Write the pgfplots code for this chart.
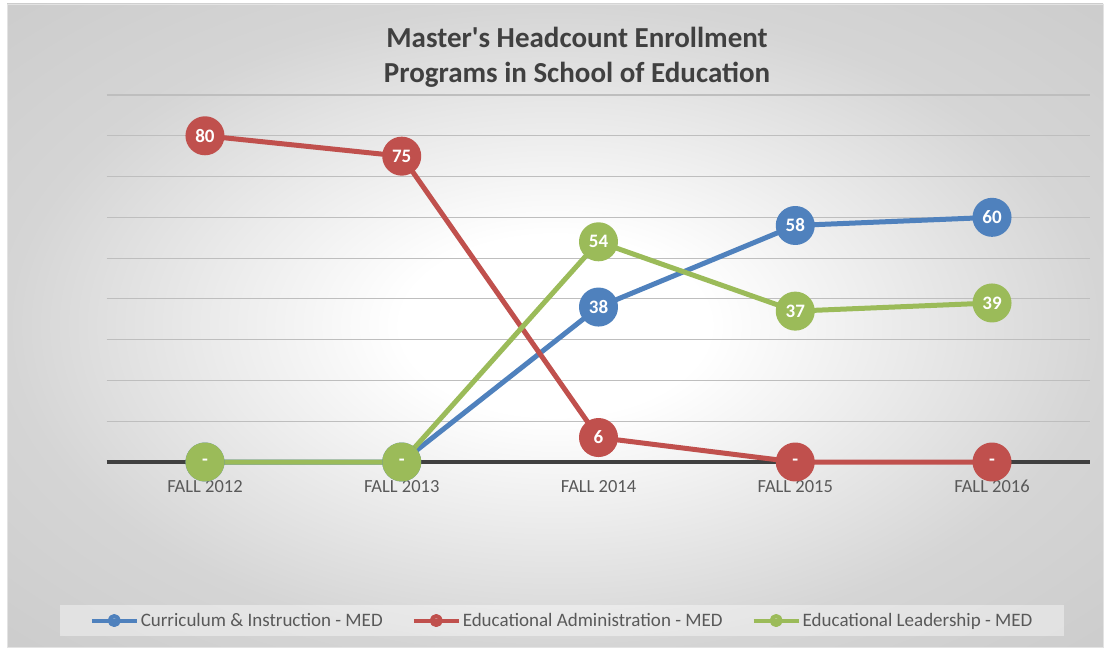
\documentclass[border=0pt]{standalone}
\usepackage{pgfplots}
\pgfplotsset{compat=1.18}
\usepackage{fontspec}
\setmainfont{Carlito}[Ligatures=TeXOff]
\definecolor{cblue}{HTML}{4F81BD}
\definecolor{cred}{HTML}{C0504D}
\definecolor{cgreen}{HTML}{9BBB59}
\definecolor{txt}{HTML}{595959}
\definecolor{ttl}{HTML}{404040}
\definecolor{gridc}{HTML}{BEBEBE}
\pgfdeclareradialshading{bgshade}{\pgfpoint{0bp}{0bp}}{color(0bp)=(white); color(7bp)=(white); color(25bp)=(gray!33); color(36bp)=(gray!40); color(50bp)=(gray!40)}
\begin{document}
\begin{tikzpicture}[x=1pt,y=1pt]
\fill[white] (0,0) rectangle (1109,651);
\shade[shading=bgshade] (7,4) rectangle (1103,647);
\draw[gray!22, line width=0.8pt] (7,4) rectangle (1103,647);
\node[anchor=base, font=\bfseries\fontsize{29}{29}\selectfont, text=ttl, inner sep=0pt] at (577,603) {Master's Headcount Enrollment};
\node[anchor=base, font=\bfseries\fontsize{29}{29}\selectfont, text=ttl, inner sep=0pt] at (577,568) {Programs in School of Education};
\begin{axis}[
  at={(106.6pt,189pt)}, anchor=south west,
  scale only axis, width=983.8pt, height=367pt,
  xmin=-0.5, xmax=4.5, ymin=0, ymax=90,
  clip=false,
  axis line style={draw=none},
  major tick length=0pt,
  ytick={10,20,...,90}, yticklabels={},
  ymajorgrids,
  major grid style={color=gridc, line width=1.2pt},
  xtick={0,1,2,3,4},
  xticklabels={FALL 2012,FALL 2013,FALL 2014,FALL 2015,FALL 2016},
  xticklabel style={anchor=base, yshift=-30pt, font=\fontsize{18.5}{18.5}\selectfont, text=txt},
  nodes near coords align={center},
  nodes near coords style={text=white, font=\bfseries\fontsize{19}{19}\selectfont, inner sep=0pt},
  legend columns=3,
  legend style={at={(0.463,-0.432)}, anchor=center, draw=none, fill=white, fill opacity=0.4, text opacity=1,
    font=\fontsize{19}{19}\selectfont, text=txt, inner xsep=30pt, inner ysep=6pt,
    /tikz/every even column/.append style={column sep=27pt}},
  legend image code/.code={\draw[#1, mark size=4.5pt, line width=4pt, mark repeat=2, mark phase=2] plot coordinates {(0pt,0pt) (22.5pt,0pt) (45pt,0pt)};},
]
\draw[ttl, line width=3.2pt] (axis cs:-0.5,0) -- (axis cs:4.5,0);
\addplot[cblue, line width=5pt, line join=round, mark=*, mark size=17pt, mark options={draw=none, fill=cblue},
  nodes near coords, point meta=explicit symbolic]
  table[meta=lab, row sep=\\] {x y lab\\ 0 0 -\\ 1 0 -\\ 2 38 38\\ 3 58 58\\ 4 60 60\\};
\addplot[cred, line width=5pt, line join=round, mark=*, mark size=17pt, mark options={draw=none, fill=cred},
  nodes near coords, point meta=explicit symbolic]
  table[meta=lab, row sep=\\] {x y lab\\ 0 80 80\\ 1 75 75\\ 2 6 6\\ 3 0 -\\ 4 0 -\\};
\addplot[cgreen, line width=5pt, line join=round, mark=*, mark size=17pt, mark options={draw=none, fill=cgreen},
  nodes near coords, point meta=explicit symbolic]
  table[meta=lab, row sep=\\] {x y lab\\ 0 0 -\\ 1 0 -\\ 2 54 54\\ 3 37 37\\ 4 39 39\\};
\legend{Curriculum \& Instruction - MED, Educational Administration - MED, Educational Leadership - MED}
\end{axis}
\pgfresetboundingbox
\path (0,0) rectangle (1109,651);
\end{tikzpicture}
\end{document}
